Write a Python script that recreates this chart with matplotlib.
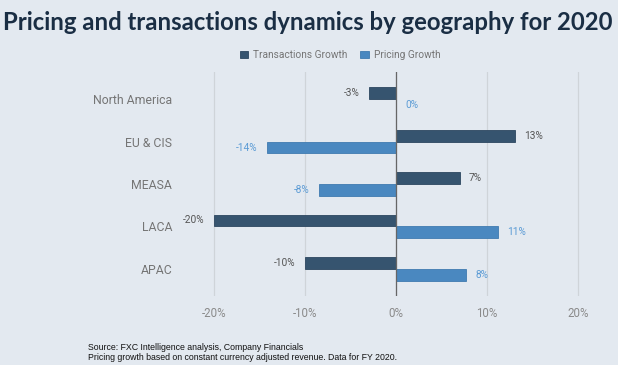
import numpy as np
import matplotlib
matplotlib.use("Agg")
import matplotlib.pyplot as plt

regions = ["North America", "EU & CIS", "MEASA", "LACA", "APAC"]
transactions = [-3, 13, 7, -20, -10]
pricing = [0, -14.2, -8.5, 11.2, 7.7]
transactions_labels = ["-3%", "13%", "7%", "-20%", "-10%"]
pricing_labels = ["0%", "-14%", "-8%", "11%", "8%"]
xticks = [-20, -10, 0, 10, 20]

bg = "#e3e9f0"
trans_color = "#36546f"
pricing_color = "#4a88c0"

W, H = 618, 365
fig = plt.figure(figsize=(W / 100, H / 100), dpi=100, facecolor=bg)
ax = fig.add_axes([200 / W, 1 - 296 / H, 392 / W, 224 / H], facecolor=bg)

y = np.arange(len(regions))
h = 0.28
ax.barh(y - h / 2, transactions, height=h, color=trans_color,
        edgecolor="#2c4660", linewidth=0.6, label="Transactions Growth", zorder=3)
ax.barh(y + h / 2, pricing, height=h, color=pricing_color,
        edgecolor="#3f7bb0", linewidth=0.6, label="Pricing Growth", zorder=3)

for yi, v, lab in zip(y, transactions, transactions_labels):
    off = 1.0 if v >= 0 else -1.0
    ax.text(v + off, yi - h / 2, lab, ha="left" if v >= 0 else "right",
            va="center", fontsize=7.3, color="#555555", family="Roboto")
for yi, v, lab in zip(y, pricing, pricing_labels):
    off = 1.0 if v >= 0 else -1.0
    ax.text(v + off, yi + h / 2, lab, ha="left" if v >= 0 else "right",
            va="center", fontsize=7.3, color="#5b9bd5", family="Roboto")

ax.set_xlim(-21.5, 21.5)
ax.set_ylim(len(regions) - 1 + 0.64, -0.64)
ax.set_xticks(xticks)
ax.set_xticklabels([f"{t}%" for t in xticks], family="Roboto", fontsize=8.3, color="#8a8a8a")
ax.set_yticks(y)
ax.set_yticklabels(regions, family="Roboto", fontsize=8.8, color="#757575")
ax.tick_params(length=0, pad=8)
ax.tick_params(axis="y", pad=20)
ax.grid(axis="x", color="#cfd4d9", linewidth=0.9, zorder=0)
ax.axvline(0, color="#666666", linewidth=0.9, zorder=4)
for s in ax.spines.values():
    s.set_visible(False)

fig.text(308 / W, 1 - 22 / H, "Pricing and transactions dynamics by geography for 2020",
         ha="center", va="center", fontsize=17.2, fontweight="bold",
         color="#1a2e44", family="Lato")

leg = fig.legend(loc="center", bbox_to_anchor=(340 / W, 1 - 55 / H), ncol=2,
                 frameon=False, handlelength=0.8, handleheight=0.8,
                 columnspacing=1.3, handletextpad=0.5, prop={"family": "Roboto", "size": 7.3})
for t in leg.get_texts():
    t.set_color("#757575")

fig.text(88 / W, 1 - 348 / H, "Source: FXC Intelligence analysis, Company Financials",
         fontsize=6.3, color="#111111", family="Liberation Sans", va="center")
fig.text(88 / W, 1 - 357 / H,
         "Pricing growth based on constant currency adjusted revenue. Data for FY 2020.",
         fontsize=6.3, color="#111111", family="Liberation Sans", va="center")

fig.savefig("out.png", dpi=100, facecolor=bg)
